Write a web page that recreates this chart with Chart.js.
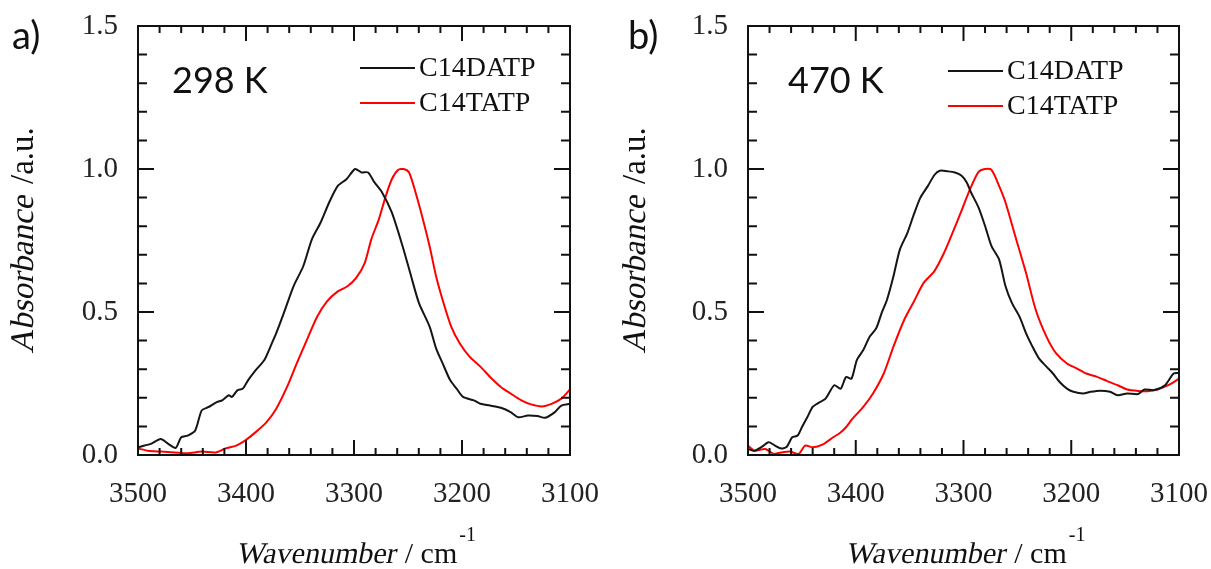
<!DOCTYPE html>
<html>
<head>
<meta charset="utf-8">
<script src="https://cdn.jsdelivr.net/npm/chart.js@4.4.1/dist/chart.umd.min.js"></script>
<style>
  html, body { margin: 0; padding: 0; background: #fff; }
  #wrap { position: relative; width: 1211px; height: 569px; }
  canvas { position: absolute; top: 0; }
</style>
</head>
<body>
<div id="wrap">
  <canvas id="panelA" width="600" height="569" style="left:0"></canvas>
  <canvas id="panelB" width="611" height="569" style="left:600px"></canvas>
</div>
<script>
// values (wavenumber in cm-1, absorbance normalised)
const seriesNames = ['C14DATP', 'C14TATP'];
const xTicks = [3500, 3400, 3300, 3200, 3100];
const yTicks = [0.0, 0.5, 1.0, 1.5];

// a) 298 K
const wnDatp298 = [3500, 3494, 3488, 3479, 3472, 3465, 3460, 3454, 3447, 3441, 3435, 3427, 3422, 3416, 3413, 3408, 3403, 3398, 3391, 3383,
  3376, 3372, 3365, 3356, 3347, 3339, 3331, 3323, 3315, 3307, 3299, 3293, 3287, 3281, 3274, 3265, 3255, 3248, 3240, 3230,
  3224, 3218, 3211, 3205, 3199, 3189, 3183, 3174, 3164, 3155, 3148, 3139, 3130, 3123, 3114, 3108, 3100];
const absDatp298 = [0.027, 0.033, 0.039, 0.056, 0.039, 0.025, 0.062, 0.068, 0.086, 0.156, 0.167, 0.185, 0.191, 0.209, 0.203, 0.226, 0.232, 0.262, 0.297, 0.332,
  0.391, 0.426, 0.496, 0.590, 0.660, 0.754, 0.812, 0.883, 0.941, 0.964, 1.0, 0.988, 0.988, 0.953, 0.918, 0.848, 0.730, 0.637, 0.533, 0.449,
  0.373, 0.321, 0.262, 0.232, 0.203, 0.191, 0.179, 0.173, 0.165, 0.150, 0.132, 0.138, 0.136, 0.130, 0.150, 0.173, 0.179];

const wnTatp298 = [3500, 3491, 3479, 3466, 3454, 3441, 3428, 3419, 3409, 3400, 3391, 3381, 3372, 3362, 3353, 3343, 3334, 3325, 3315, 3306,
  3298, 3290, 3284, 3277, 3271, 3265, 3259, 3254, 3249, 3243, 3237, 3230, 3224, 3218, 3210, 3202, 3193, 3183, 3174, 3164,
  3155, 3145, 3136, 3126, 3117, 3108, 3100];
const absTatp298 = [0.023, 0.015, 0.012, 0.009, 0.006, 0.012, 0.009, 0.023, 0.033, 0.053, 0.080, 0.115, 0.162, 0.238, 0.320, 0.408, 0.484, 0.537, 0.572, 0.590,
  0.619, 0.672, 0.754, 0.824, 0.900, 0.964, 0.997, 1.0, 0.988, 0.918, 0.836, 0.730, 0.625, 0.543, 0.449, 0.390, 0.344, 0.309, 0.273, 0.238,
  0.215, 0.191, 0.177, 0.170, 0.179, 0.197, 0.229];

// b) 470 K
const wnDatp470 = [3500, 3494, 3487, 3481, 3475, 3469, 3464, 3459, 3454, 3450, 3445, 3440, 3436, 3428, 3420, 3414, 3409, 3404, 3399, 3393,
  3387, 3381, 3376, 3371, 3365, 3359, 3352, 3346, 3340, 3333, 3327, 3322, 3315, 3308, 3302, 3297, 3293, 3286, 3280, 3274,
  3267, 3261, 3255, 3248, 3242, 3236, 3230, 3223, 3217, 3211, 3204, 3198, 3189, 3182, 3173, 3164, 3157, 3148, 3138, 3132,
  3123, 3113, 3105, 3100];
const absDatp470 = [0.021, 0.015, 0.029, 0.045, 0.033, 0.023, 0.029, 0.062, 0.068, 0.097, 0.132, 0.168, 0.179, 0.197, 0.244, 0.232, 0.273, 0.267, 0.332, 0.367,
  0.414, 0.443, 0.496, 0.543, 0.625, 0.719, 0.777, 0.842, 0.900, 0.941, 0.979, 0.994, 0.992, 0.988, 0.977, 0.953, 0.918, 0.865, 0.801, 0.730,
  0.684, 0.590, 0.531, 0.484, 0.426, 0.379, 0.338, 0.309, 0.285, 0.256, 0.232, 0.221, 0.215, 0.221, 0.225, 0.221, 0.209, 0.215, 0.213, 0.229,
  0.227, 0.244, 0.285, 0.287];

const wnTatp470 = [3500, 3494, 3484, 3476, 3469, 3461, 3453, 3447, 3440, 3431, 3421, 3415, 3409, 3403, 3393, 3384, 3374, 3365, 3355, 3346,
  3337, 3327, 3318, 3310, 3302, 3294, 3286, 3280, 3274, 3267, 3261, 3252, 3242, 3233, 3223, 3214, 3204, 3195, 3186, 3176,
  3167, 3157, 3148, 3138, 3129, 3120, 3110, 3100];
const absTatp470 = [0.033, 0.015, 0.021, 0.004, 0.009, 0.012, 0.004, 0.033, 0.027, 0.036, 0.062, 0.076, 0.097, 0.127, 0.168, 0.215, 0.285, 0.379, 0.473, 0.537,
  0.602, 0.643, 0.707, 0.778, 0.853, 0.929, 0.990, 1.0, 0.997, 0.941, 0.883, 0.766, 0.637, 0.508, 0.414, 0.355, 0.320, 0.303, 0.285, 0.273,
  0.259, 0.244, 0.229, 0.224, 0.223, 0.229, 0.244, 0.267];

const colors = ['#151515', '#ff0000'];
const serif = '"Liberation Serif", "Times New Roman", serif';
const sans = 'Lato, "Open Sans", sans-serif';

const toPoints = (wn, ab) => wn.map((w, i) => ({ x: w, y: ab[i] }));

// slanted serif text (the italic face is not picked up reliably, so shear the upright one)
function slanted(ctx, text, x, y) {
  ctx.save();
  ctx.translate(x, y);
  ctx.transform(1, 0, -0.2, 1, 0, 0);
  ctx.fillText(text, 0, 0);
  ctx.restore();
}

// frame with inward ticks on all four sides, titles, legend and panel labels
const framePlugin = {
  id: 'frame',
  afterDatasetsDraw(chart, args, o) {
    const { ctx, chartArea: a, scales: { x, y } } = chart;
    ctx.save();
    ctx.strokeStyle = '#111';
    ctx.lineWidth = 2;
    ctx.strokeRect(a.left, a.top, a.right - a.left, a.bottom - a.top);

    ctx.beginPath();
    for (let w = x.min; w <= x.max; w += 20) {
      const px = x.getPixelForValue(w);
      const len = w % 100 === 0 ? 15 : 7;
      ctx.moveTo(px, a.bottom); ctx.lineTo(px, a.bottom - len);
      ctx.moveTo(px, a.top); ctx.lineTo(px, a.top + len);
    }
    for (let i = 0; i <= 15; i++) {
      const py = y.getPixelForValue(i / 10);
      const len = i % 5 === 0 ? 16 : 9;
      ctx.moveTo(a.left, py); ctx.lineTo(a.left + len, py);
      ctx.moveTo(a.right, py); ctx.lineTo(a.right - len, py);
    }
    ctx.stroke();

    ctx.fillStyle = '#111';
    ctx.textBaseline = 'alphabetic';
    ctx.textAlign = 'left';

    // x title: Wavenumber / cm-1
    const f1 = '30px ' + serif, f3 = '20px ' + serif;
    ctx.font = f1;
    const w1 = ctx.measureText('Wavenumber').width;
    const w2 = ctx.measureText(' / cm').width;
    ctx.font = f3;
    const w3 = ctx.measureText('-1').width;
    const sx = (a.left + a.right) / 2 - (w1 + w2 + w3) / 2;
    ctx.font = f1;
    slanted(ctx, 'Wavenumber', sx, 563);
    ctx.fillText(' / cm', sx + w1 + 2, 563);
    ctx.font = f3;
    ctx.fillText('-1', sx + w1 + w2 + 4, 541);

    // y title: Absorbance /a.u.
    ctx.save();
    ctx.translate(o.yTitleX, (a.top + a.bottom) / 2);
    ctx.rotate(-Math.PI / 2);
    ctx.textBaseline = 'middle';
    ctx.font = '33px ' + serif;
    const v1 = ctx.measureText('Absorbance').width;
    const v2 = ctx.measureText(' /a.u.').width;
    const sy = -(v1 + v2) / 2;
    slanted(ctx, 'Absorbance', sy, 0);
    ctx.fillText(' /a.u.', sy + v1 + 2, 0);
    ctx.restore();

    // legend
    ctx.textBaseline = 'middle';
    ctx.font = '28px ' + serif;
    chart.data.datasets.forEach((ds, i) => {
      const ly = o.legendY + i * 35;
      ctx.strokeStyle = ds.borderColor;
      ctx.lineWidth = 2;
      ctx.beginPath();
      ctx.moveTo(o.legendX, ly); ctx.lineTo(o.legendX + 55, ly);
      ctx.stroke();
      ctx.fillStyle = '#111';
      ctx.fillText(ds.label, o.legendX + 59, ly + 1);
    });

    // temperature and panel tag
    ctx.font = '36px ' + sans;
    ctx.fillText(o.temp, o.tempX, 81);
    ctx.font = '38px ' + sans;
    ctx.fillText(o.tag, o.tagX, 37);
    ctx.restore();
  }
};

function makeChart(id, sets, o) {
  return new Chart(document.getElementById(id), {
    type: 'line',
    data: {
      datasets: sets.map((s, i) => ({
        label: seriesNames[i],
        data: s,
        borderColor: colors[i],
        backgroundColor: colors[i],
      })),
    },
    options: {
      responsive: false,
      animation: false,
      layout: { padding: { left: 0, right: o.padRight, top: 26, bottom: 0 } },
      elements: { point: { radius: 0 }, line: { borderWidth: 2, tension: 0.25 } },
      plugins: { legend: { display: false }, tooltip: { enabled: false }, frame: o },
      scales: {
        x: {
          type: 'linear', reverse: true, min: xTicks[xTicks.length - 1], max: xTicks[0],
          grid: { display: false }, border: { display: false },
          afterBuildTicks: s => { s.ticks = xTicks.map(v => ({ value: v })); },
          ticks: { padding: 14, color: '#222', maxRotation: 0, font: { family: serif, size: 29 }, callback: v => String(v) },
          afterFit: s => { s.height = 114; s.paddingLeft = 0; s.paddingRight = 0; },
        },
        y: {
          min: yTicks[0], max: yTicks[yTicks.length - 1],
          grid: { display: false }, border: { display: false },
          afterBuildTicks: s => { s.ticks = yTicks.map(v => ({ value: v })); },
          ticks: { padding: 12, color: '#222', font: { family: serif, size: 29 }, callback: v => v.toFixed(1) },
          afterFit: s => { s.width = o.axisLeft; s.paddingTop = 0; s.paddingBottom = 0; },
        },
      },
    },
    plugins: [framePlugin],
  });
}

makeChart('panelA', [toPoints(wnDatp298, absDatp298), toPoints(wnTatp298, absTatp298)],
  { axisLeft: 138, padRight: 30, yTitleX: 24, legendX: 360, legendY: 68, temp: '298 K', tempX: 172, tag: 'a)', tagX: 12 });
makeChart('panelB', [toPoints(wnDatp470, absDatp470), toPoints(wnTatp470, absTatp470)],
  { axisLeft: 148, padRight: 32, yTitleX: 36, legendX: 348, legendY: 71, temp: '470 K', tempX: 188, tag: 'b)', tagX: 28 });
</script>
</body>
</html>
